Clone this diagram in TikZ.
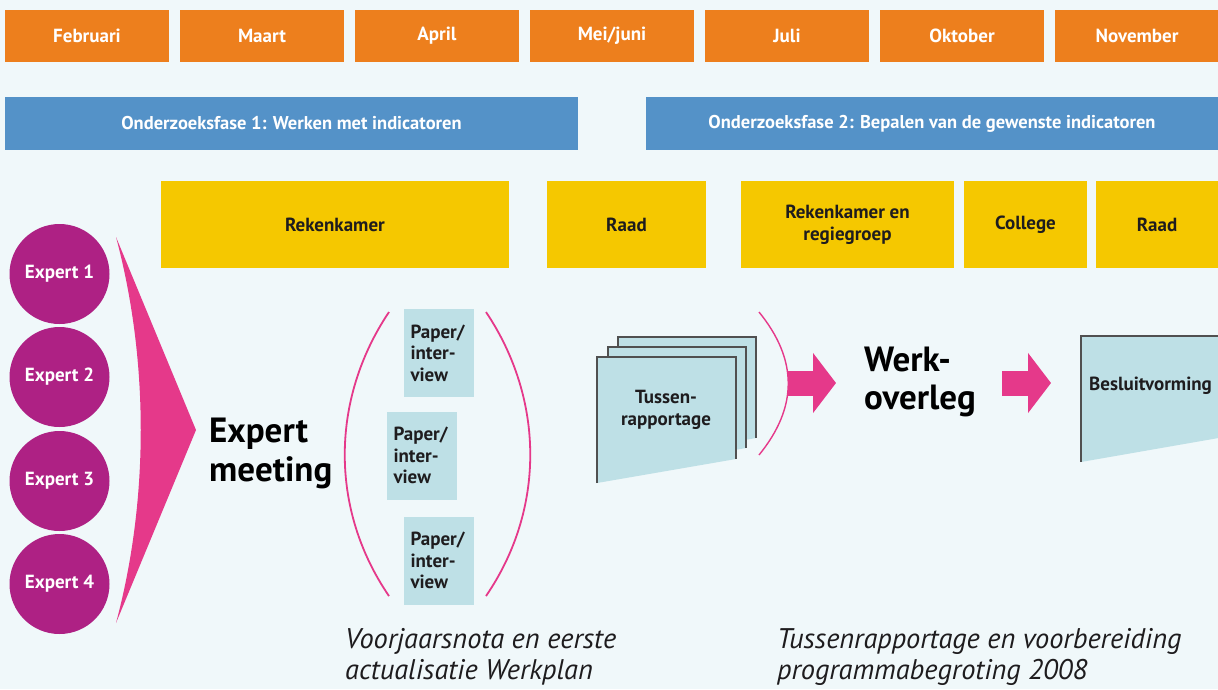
\documentclass[tikz,border=0pt]{standalone}
\usepackage{fontspec}
\setmainfont{PT Sans}
\usetikzlibrary{arrows.meta, positioning}
\definecolor{bgblue}{RGB}{240,248,250}
\definecolor{monthorange}{RGB}{237,127,29}
\definecolor{faseblue}{RGB}{84,146,200}
\definecolor{actoryellow}{RGB}{245,200,0}
\definecolor{expertpurple}{RGB}{174,33,132}
\definecolor{popink}{RGB}{229,57,138}
\definecolor{sheetblue}{RGB}{190,224,230}
\definecolor{inkdark}{RGB}{30,28,30}
\definecolor{sheetgray}{RGB}{80,80,80}

\begin{document}
\begin{tikzpicture}[x=1pt, y=-1pt,
  monthbox/.style={fill=monthorange, text=white, minimum width=164pt, minimum height=52pt, inner sep=0pt, font=\fontsize{19}{22}\selectfont\bfseries},
  fasebox/.style={fill=faseblue, text=white, minimum height=53pt, inner sep=0pt, font=\fontsize{18.5}{22}\selectfont\bfseries},
  actorbox/.style={fill=actoryellow, text=inkdark, minimum height=87pt, inner sep=0pt, align=center, font=\fontsize{19}{22}\selectfont\bfseries},
  expert/.style={circle, fill=expertpurple, text=white, minimum size=100pt, inner sep=0pt, font=\fontsize{19}{22}\selectfont\bfseries},
  paperbox/.style={fill=sheetblue, text=inkdark, minimum height=88pt, text width=57pt, inner xsep=6.5pt, inner ysep=0pt, align=left, font=\fontsize{19}{21.5}\selectfont\bfseries},
  sheettxt/.style={text=inkdark, inner sep=0pt, align=center, font=\fontsize{19}{21.5}\selectfont\bfseries},
  bigtxt/.style={anchor=west, inner sep=0pt, align=left, text=black, font=\fontsize{35}{38.5}\selectfont\bfseries},
  captxt/.style={anchor=west, inner sep=0pt, align=left, text=inkdark, font=\fontsize{28.4}{31}\selectfont\itshape},
  curve/.style={draw=popink, line width=1.8pt},
  sheet/.style={fill=sheetblue},
  sheetedge/.style={draw=sheetgray, line width=1.2pt},
  bigarrow/.style={draw=popink, line width=25pt, -{Triangle[length=23pt, width=59pt]}}
]
  \path[use as bounding box, fill=bgblue] (0,0) rectangle (1218,689);
  \clip (0,0) rectangle (1218,689);

  \node[monthbox] (feb) at (87,36) {Februari};
  \node[monthbox] (maart) at (262,36) {Maart};
  \node[monthbox] (april) at (437,36) {April};
  \node[monthbox] (mei) at (612,36) {Mei/juni};
  \node[monthbox] (juli) at (787,36) {Juli};
  \node[monthbox] (okt) at (962,36) {Oktober};
  \node[monthbox] (nov) at (1137,36) {November};

  \node[fasebox, minimum width=573pt] (fase1) at (291.5,123.5) {Onderzoeksfase 1: Werken met indicatoren};
  \node[fasebox, minimum width=572pt] (fase2) at (932,123.5) {Onderzoeksfase 2: Bepalen van de gewenste indicatoren};

  \node[actorbox, minimum width=348pt] (rek) at (335,224.5) {Rekenkamer};
  \node[actorbox, minimum width=159pt] (raad1) at (626.5,224.5) {Raad};
  \node[actorbox, minimum width=213pt] (regie) at (847.5,224.5) {Rekenkamer en\\regiegroep};
  \node[actorbox, minimum width=123pt] (college) at (1025.5,224.5) {College};
  \node[actorbox, minimum width=122pt] (raad2) at (1157,224.5) {Raad};

  \node[expert] (exp1) at (59.5,274) {Expert 1};
  \node[expert] (exp2) at (59.5,377) {Expert 2};
  \node[expert] (exp3) at (59.5,481) {Expert 3};
  \node[expert] (exp4) at (59.5,584) {Expert 4};
  \fill[popink] (116,237) -- (196,430) -- (116,623) .. controls (149,500) and (149,360) .. (116,237) -- cycle;

  \node[bigtxt] (meeting) at (209,453.5) {Expert\\meeting};

  \draw[curve] (389,312) .. controls (330,400) and (330,510) .. (389,596);
  \draw[curve] (486,312) .. controls (545,400) and (545,510) .. (486,596);
  \node[paperbox] (paper1) at (439,353) {Paper/\\inter-\\view};
  \node[paperbox] (paper2) at (422,455.5) {Paper/\\inter-\\view};
  \node[paperbox] (paper3) at (439,560.5) {Paper/\\inter-\\view};

  \fill[sheet] (618,337) -- (756,337) -- (756,438) -- (618,462) -- cycle;
  \draw[sheetedge] (618,462) -- (618,337) -- (756,337) -- (756,438);
  \fill[sheet] (608,347) -- (746,347) -- (746,448) -- (608,472) -- cycle;
  \draw[sheetedge] (608,472) -- (608,347) -- (746,347) -- (746,448);
  \fill[sheet] (597,357) -- (736,357) -- (736,459) -- (597,483) -- cycle;
  \draw[sheetedge] (597,483) -- (597,357) -- (736,357) -- (736,459);
  \node[sheettxt] (tussen) at (666,410) {Tussen-\\rapportage};
  \draw[curve, line width=1.4pt] (759,312) .. controls (798,360) and (798,407) .. (759,455);

  \node[bigtxt] (overleg) at (864,382) {Werk-\\overleg};

  \fill[sheet] (1081,336) -- (1230,336) -- (1230,436) -- (1081,462) -- cycle;
  \draw[sheetedge] (1081,462) -- (1081,336) -- (1230,336);
  \node[sheettxt] (besluit) at (1150.5,386) {Besluitvorming};

  \coordinate (arr1s) at (788,383);
  \coordinate (arr1e) at (836,383);
  \coordinate (arr2s) at (1002,383);
  \coordinate (arr2e) at (1051,383);
  \draw[bigarrow] (arr1s) -- (arr1e);
  \draw[bigarrow] (arr2s) -- (arr2e);

  \node[captxt] (nota) at (345,657) {Voorjaarsnota en eerste\\actualisatie Werkplan};
  \node[captxt] (begroting) at (777,657) {Tussenrapportage en voorbereiding\\programmabegroting 2008};
\end{tikzpicture}
\end{document}
